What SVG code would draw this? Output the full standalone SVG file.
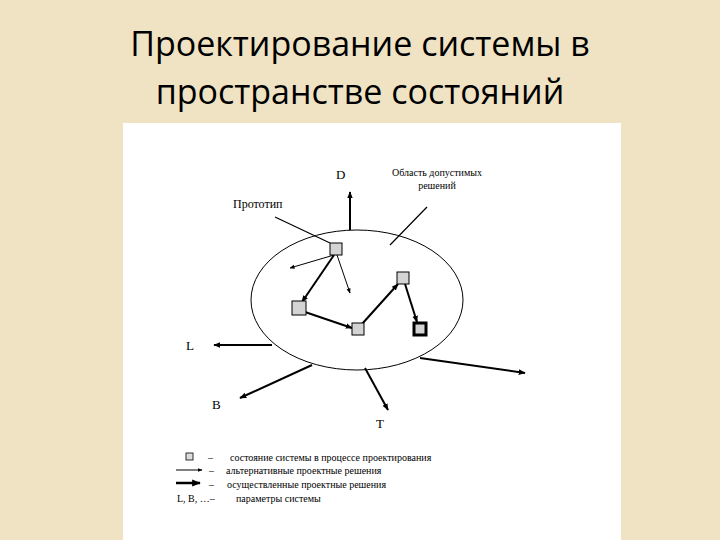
<svg xmlns="http://www.w3.org/2000/svg" width="720" height="540" viewBox="0 0 720 540">
<defs>
<marker id="a" viewBox="0 0 10 10" refX="9" refY="5" markerWidth="5" markerHeight="5" orient="auto"><path d="M0,1L10,5L0,9z" fill="#000"/></marker>
<marker id="b" viewBox="0 0 10 10" refX="9" refY="5" markerWidth="3.5" markerHeight="3.5" orient="auto"><path d="M0,1L10,5L0,9z" fill="#000"/></marker>
<style>
text{font-family:"Liberation Serif",serif;fill:#000}
.ax{stroke:#000;stroke-width:2;fill:none;marker-end:url(#b)}
.th{stroke:#000;stroke-width:1;fill:none;marker-end:url(#a)}
.sq{fill:#d4d4d4;stroke:#000;stroke-width:1}
</style>
</defs>
<rect width="720" height="540" fill="#efe3c4"/>
<text x="360" y="56" text-anchor="middle" style="font-family:'Open Sans',sans-serif;font-size:34px">Проектирование системы в</text>
<text x="360" y="104" text-anchor="middle" style="font-family:'Open Sans',sans-serif;font-size:34px">пространстве состояний</text>
<rect x="123" y="123" width="498" height="417" fill="#fff"/>
<g id="region"><ellipse cx="357" cy="300" rx="106" ry="70" fill="none" stroke="#000" stroke-width="1"/></g>
<g id="connectors">
<path class="ax" d="M350,230V192"/>
<path class="ax" d="M272,345H214"/>
<path class="ax" d="M312,365L240,398"/>
<path class="ax" d="M365,368L388,410"/>
<path class="ax" d="M420,358L525,373"/>
<path d="M275,217L330,243" stroke="#000" stroke-width="1.2"/>
<path d="M427,207L390,245" stroke="#000" stroke-width="1.2"/>
<path class="th" d="M334,255L290,268"/>
<path class="th" d="M337,255L350,293"/>
<path class="ax" d="M334,255L302,302"/>
<path class="ax" d="M305,312L352,328"/>
<path class="ax" d="M362,324L398,284"/>
<path class="ax" d="M405,284L417,322"/>
</g>
<g id="s1"><rect class="sq" x="330" y="243" width="12" height="12"/></g>
<g id="s2"><rect class="sq" x="292" y="301" width="14" height="14"/></g>
<g id="s3"><rect class="sq" x="352" y="323" width="12" height="12"/></g>
<g id="s4"><rect class="sq" x="397" y="272" width="12" height="12"/></g>
<g id="s5"><rect x="414" y="323" width="12" height="12" fill="#d4d4d4" stroke="#000" stroke-width="3"/></g>
<text x="336" y="179" style="font-size:13px">D</text>
<text x="437" y="176" text-anchor="middle" style="font-size:10px">Область допустимых</text>
<text x="437" y="189" text-anchor="middle" style="font-size:10px">решений</text>
<text x="233" y="208" style="font-size:12px">Прототип</text>
<text x="186" y="350" style="font-size:13px">L</text>
<text x="212" y="409" style="font-size:13px">B</text>
<text x="376" y="428" style="font-size:13px">T</text>
<g id="legend" style="font-size:10px">
<rect x="186" y="453" width="7" height="7" fill="#ddd" stroke="#000" stroke-width="0.8"/>
<text x="208" y="461" style="font-size:10px">–</text>
<text x="230" y="461" style="font-size:10px">состояние системы в процессе проектирования</text>
<path class="th" d="M176,470H202"/>
<text x="209" y="474" style="font-size:10px">–</text>
<text x="226" y="474" style="font-size:10px">альтернативные проектные решения</text>
<path d="M176,483H200" stroke="#000" stroke-width="2.5" marker-end="url(#b)"/>
<text x="209" y="488" style="font-size:10px">–</text>
<text x="227" y="488" style="font-size:10px">осуществленные проектные решения</text>
<text x="177" y="502" style="font-size:10px">L, B, …–</text>
<text x="236" y="502" style="font-size:10px">параметры системы</text>
</g>
</svg>
